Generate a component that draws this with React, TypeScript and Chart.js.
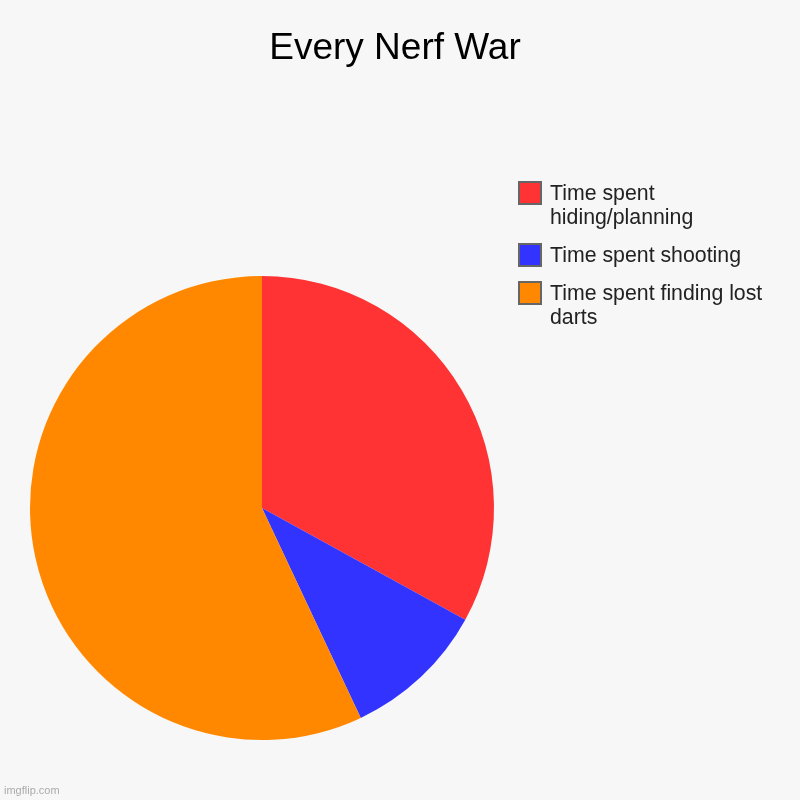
import React, { useEffect, useRef } from 'react';
import { Chart, registerables, Plugin } from 'chart.js';

Chart.register(...registerables);

const chartTitle = 'Every Nerf War';
const labels = ['Time spent hiding/planning', 'Time spent shooting', 'Time spent finding lost darts'];
const values = [33, 10, 57];
const colors = ['#ff3333', '#3333ff', '#ff8800'];

const FONT = '"Liberation Sans", Arial, sans-serif';

const wrapText = (ctx: CanvasRenderingContext2D, text: string, maxWidth: number) => {
  const words = text.split(' ');
  const lines: string[] = [];
  let line = '';
  words.forEach((w) => {
    const test = line ? line + ' ' + w : w;
    if (ctx.measureText(test).width > maxWidth && line) {
      lines.push(line);
      line = w;
    } else {
      line = test;
    }
  });
  if (line) lines.push(line);
  return lines;
};

// background, title, wrapped legend and watermark
const decorations: Plugin<'pie'> = {
  id: 'decorations',
  beforeDraw: (chart) => {
    const ctx = chart.ctx;
    ctx.save();
    ctx.fillStyle = '#f7f7f7';
    ctx.fillRect(0, 0, chart.width, chart.height);
    ctx.restore();
  },
  afterDraw: (chart) => {
    const ctx = chart.ctx;
    ctx.save();
    ctx.textBaseline = 'alphabetic';

    ctx.fillStyle = '#000';
    ctx.font = `37px ${FONT}`;
    ctx.textAlign = 'center';
    ctx.fillText(chartTitle, 395, 59);

    ctx.textAlign = 'left';
    ctx.font = `21.3px ${FONT}`;
    const lbls = chart.data.labels as string[];
    const bg = chart.data.datasets[0].backgroundColor as string[];
    let y = 200;
    lbls.forEach((label, i) => {
      const lines = wrapText(ctx, label, 240);
      ctx.fillStyle = bg[i];
      ctx.fillRect(519, y - 18, 22, 22);
      ctx.strokeStyle = '#666';
      ctx.lineWidth = 2;
      ctx.strokeRect(519, y - 18, 22, 22);
      ctx.fillStyle = '#222';
      lines.forEach((l, j) => ctx.fillText(l, 550, y + j * 24));
      y += (lines.length - 1) * 24 + 38;
    });

    ctx.fillStyle = '#aaa';
    ctx.font = `11px ${FONT}`;
    ctx.fillText('imgflip.com', 4, 794);
    ctx.restore();
  },
};

const App: React.FC = () => {
  const chartRef = useRef<HTMLCanvasElement>(null);

  useEffect(() => {
    document.body.style.margin = '0';
    if (!chartRef.current) return;
    const chart = new Chart(chartRef.current, {
      type: 'pie',
      data: {
        labels,
        datasets: [
          {
            data: values,
            backgroundColor: colors,
            borderWidth: 0,
            hoverOffset: 0,
          },
        ],
      },
      options: {
        responsive: false,
        animation: false,
        layout: { padding: { left: 30, right: 306, top: 276, bottom: 60 } },
        plugins: {
          legend: { display: false },
          title: { display: false },
          tooltip: { enabled: false },
        },
      },
      plugins: [decorations],
    });
    return () => {
      chart.destroy();
    };
  }, []);

  return (
    <div style={{ width: 800, height: 800, background: '#f7f7f7' }}>
      <canvas ref={chartRef} width={800} height={800} />
    </div>
  );
};

export default App;
